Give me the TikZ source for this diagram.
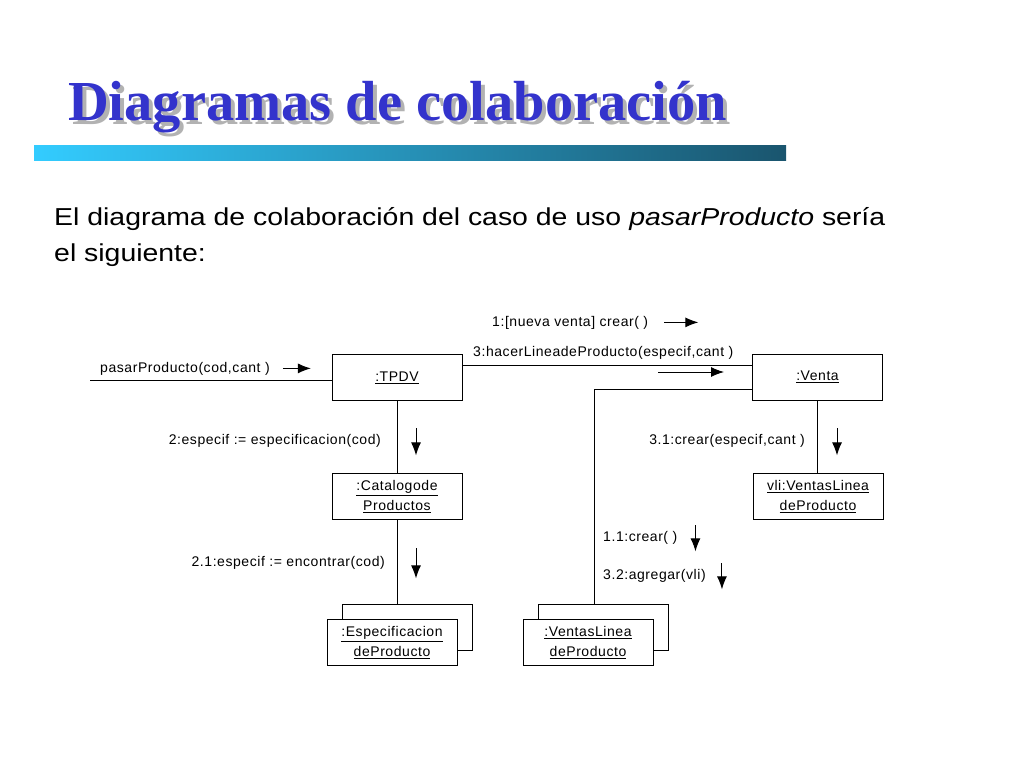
\documentclass[tikz,border=0pt]{standalone}
\usepackage{fontspec}
\setmainfont{Liberation Sans}[FakeStretch=1.16]
\newfontfamily\titlefont{Liberation Serif}
\newfontfamily\diagfont{Liberation Sans}[LetterSpace=4]
\usetikzlibrary{arrows.meta}
\definecolor{titleblue}{RGB}{51,51,204}
\definecolor{barleft}{RGB}{51,204,255}
\definecolor{barright}{RGB}{26,85,110}
\tikzset{
  obj/.style={draw, fill=white, line width=.9pt, minimum width=130pt, minimum height=46pt,
    inner sep=0pt, align=center, font=\diagfont\fontsize{14}{20}\selectfont},
  msg/.style={inner sep=0pt, font=\diagfont\fontsize{14}{16}\selectfont},
  flow/.style={-{Latex[length=13pt,width=10pt]}, line width=1pt},
  link/.style={line width=.9pt}
}
\begin{document}
\begin{tikzpicture}[x=1pt,y=-1pt]
\useasboundingbox (0,0) rectangle (1024,768);
% title and bar
\node[anchor=base west, inner sep=0pt, text=black!30, font=\titlefont\bfseries\fontsize{56.5}{60}\selectfont] (titleshadow) at (72,124) {Diagramas de colaboración};
\node[anchor=base west, inner sep=0pt, text=titleblue, font=\titlefont\bfseries\fontsize{56.5}{60}\selectfont] (title) at (68,120) {Diagramas de colaboración};
\shade[left color=barleft, right color=barright] (34,145) rectangle (786,160);
\node[anchor=base west, inner sep=0pt, font=\fontsize{24.5}{28}\selectfont] (intro1) at (54,225) {El diagrama de colaboración del caso de uso \textit{pasarProducto} sería};
\node[anchor=base west, inner sep=0pt, font=\fontsize{24.5}{28}\selectfont] (intro2) at (54,261) {el siguiente:};

% objects
\node[obj] (tpdv) at (397,377.5) {\underline{:TPDV}};
\node[obj] (venta) at (817.5,377) {\underline{:Venta}};
\node[obj] (catalogo) at (397,496.5) {\underline{:Catalogode}\\\underline{Productos}};
\node[obj] (vli) at (818,496.5) {\underline{vli:VentasLinea}\\\underline{deProducto}};
\node[obj] (espback) at (407,627.5) {};
\node[obj] (espec) at (392,642.5) {\underline{:Especificacion}\\\underline{deProducto}};
\node[obj] (vlback) at (603,627.5) {};
\node[obj] (vlineas) at (588,642.5) {\underline{:VentasLinea}\\\underline{deProducto}};

% links
\coordinate (start) at (90,380);
\draw[link] (start) -- (start -| tpdv.west);
\draw[link] ([yshift=12pt]tpdv.east) -- ([yshift=12pt]tpdv.east -| venta.west);
\draw[link] (tpdv) -- (catalogo);
\draw[link] (catalogo.south) -- (catalogo.south |- espback.north);
\draw[link] (venta.south) -- (venta.south |- vli.north);
\draw[link] ([yshift=-12pt]venta.west) -| ([xshift=-9pt]vlback.north);

% messages
\node[msg, anchor=base west] (m0) at (100,372) {pasarProducto(cod,cant )};
\draw[flow] ([xshift=13pt]m0.east) -- +(28,0);
\node[msg, anchor=base west] (m1) at (492,326) {1:[nueva venta] crear( )};
\draw[flow] ([xshift=16pt]m1.east) -- +(34,0);
\node[msg, anchor=base west] (m3) at (473,356) {3:hacerLineadeProducto(especif,cant )};
\draw[flow] ([xshift=-94pt,yshift=5pt]venta.west) -- +(66,0);
\node[msg, anchor=base east] (m2) at (381,444) {2:especif := especificacion(cod)};
\draw[flow] ([xshift=35pt,yshift=12pt]m2.east) -- +(0,27);
\node[msg, anchor=base east] (m21) at (385,566) {2.1:especif := encontrar(cod)};
\draw[flow] ([xshift=31pt,yshift=14pt]m21.east) -- +(0,30);
\node[msg, anchor=base east] (m31) at (805,444) {3.1:crear(especif,cant )};
\draw[flow] ([xshift=32pt,yshift=12pt]m31.east) -- +(0,27);
\node[msg, anchor=base west] (m11) at (603,541) {1.1:crear( )};
\draw[flow] ([xshift=18pt,yshift=12pt]m11.east) -- +(0,26);
\node[msg, anchor=base west] (m32) at (603,579) {3.2:agregar(vli)};
\draw[flow] ([xshift=16pt,yshift=12pt]m32.east) -- +(0,26);
\end{tikzpicture}
\end{document}
